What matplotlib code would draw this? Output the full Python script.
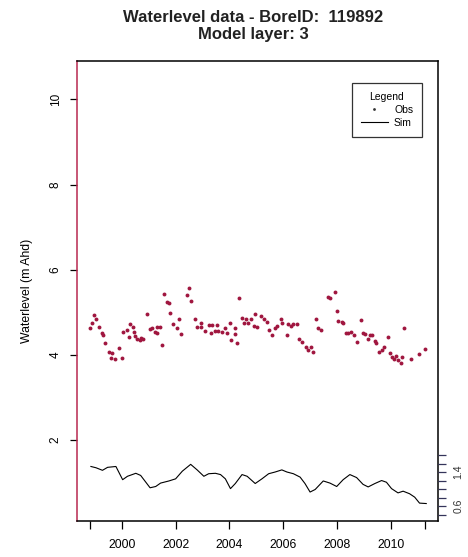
import matplotlib
matplotlib.use("Agg")
import matplotlib.pyplot as plt
from matplotlib.lines import Line2D

plt.rcParams['font.family'] = ['Liberation Sans', 'DejaVu Sans']

# ---- data ----
obs_year = [1998.83, 1998.89, 1998.97, 1999.04, 1999.16, 1999.25, 1999.31, 1999.37, 1999.54, 1999.59,
            1999.64, 1999.75, 1999.89, 1999.99, 2000.06, 2000.19, 2000.25, 2000.30, 2000.40, 2000.46,
            2000.48, 2000.56, 2000.66, 2000.73, 2000.79, 2000.95, 2001.04, 2001.14, 2001.22, 2001.29,
            2001.32, 2001.42, 2001.51, 2001.56, 2001.67, 2001.74, 2001.79, 2001.91, 2002.04, 2002.14,
            2002.21, 2002.43, 2002.51, 2002.56, 2002.73, 2002.80, 2002.93, 2002.96, 2003.09, 2003.23,
            2003.30, 2003.36, 2003.46, 2003.54, 2003.58, 2003.73, 2003.83, 2003.91, 2004.01, 2004.07,
            2004.20, 2004.22, 2004.30, 2004.34, 2004.47, 2004.53, 2004.62, 2004.71, 2004.81, 2004.90,
            2004.94, 2005.03, 2005.19, 2005.27, 2005.40, 2005.48, 2005.60, 2005.68, 2005.77, 2005.93,
            2005.97, 2006.14, 2006.17, 2006.30, 2006.38, 2006.51, 2006.57, 2006.69, 2006.84, 2006.94,
            2007.04, 2007.12, 2007.21, 2007.31, 2007.41, 2007.68, 2007.74, 2007.93, 2007.99, 2008.05,
            2008.17, 2008.23, 2008.32, 2008.42, 2008.52, 2008.64, 2008.73, 2008.91, 2008.97, 2009.06,
            2009.14, 2009.22, 2009.31, 2009.43, 2009.47, 2009.56, 2009.66, 2009.75, 2009.88, 2009.96,
            2010.05, 2010.12, 2010.21, 2010.27, 2010.37, 2010.42, 2010.48, 2010.77, 2011.04, 2011.26]
obs_level = [4.62, 4.76, 4.93, 4.84, 4.65, 4.52, 4.47, 4.29, 4.07, 3.92,
             4.05, 3.90, 4.16, 3.92, 4.54, 4.58, 4.43, 4.73, 4.65, 4.54,
             4.44, 4.37, 4.35, 4.40, 4.37, 4.95, 4.60, 4.64, 4.54, 4.65,
             4.52, 4.65, 4.23, 5.43, 5.25, 5.21, 4.98, 4.73, 4.62, 4.84,
             4.50, 5.40, 5.56, 5.26, 4.85, 4.66, 4.76, 4.65, 4.55, 4.70,
             4.52, 4.70, 4.55, 4.70, 4.55, 4.54, 4.62, 4.51, 4.76, 4.35,
             4.62, 4.50, 4.29, 5.33, 4.87, 4.76, 4.84, 4.74, 4.84, 4.69,
             4.95, 4.65, 4.91, 4.84, 4.78, 4.58, 4.46, 4.64, 4.68, 4.84,
             4.76, 4.46, 4.72, 4.68, 4.72, 4.73, 4.37, 4.31, 4.19, 4.11,
             4.19, 4.07, 4.84, 4.62, 4.58, 5.36, 5.33, 5.48, 5.03, 4.80,
             4.78, 4.76, 4.51, 4.51, 4.54, 4.47, 4.31, 4.81, 4.52, 4.48,
             4.37, 4.47, 4.47, 4.33, 4.29, 4.07, 4.12, 4.19, 4.43, 4.05,
             3.95, 3.90, 3.98, 3.88, 3.82, 3.94, 4.62, 3.90, 4.02, 4.13]

sim_year = [1998.85, 1999.04, 1999.28, 1999.47, 1999.78, 2000.03, 2000.21, 2000.52, 2000.70, 2001.05,
            2001.26, 2001.44, 2001.75, 2002.00, 2002.25, 2002.56, 2002.80, 2003.05, 2003.23, 2003.48,
            2003.67, 2003.85, 2004.04, 2004.22, 2004.47, 2004.66, 2004.96, 2005.21, 2005.46, 2005.70,
            2005.95, 2006.14, 2006.38, 2006.63, 2006.81, 2007.00, 2007.19, 2007.49, 2007.74, 2007.99,
            2008.23, 2008.48, 2008.73, 2008.97, 2009.16, 2009.41, 2009.66, 2009.84, 2010.03, 2010.27,
            2010.46, 2010.70, 2010.89, 2011.07, 2011.32]
sim_level = [1.38, 1.35, 1.29, 1.36, 1.38, 1.07, 1.15, 1.22, 1.17, 0.88,
             0.91, 0.99, 1.04, 1.09, 1.27, 1.43, 1.30, 1.15, 1.21, 1.22,
             1.19, 1.09, 0.86, 0.98, 1.19, 1.15, 0.98, 1.09, 1.21, 1.25,
             1.30, 1.25, 1.21, 1.13, 0.98, 0.78, 0.84, 1.04, 0.99, 0.91,
             1.07, 1.19, 1.12, 0.96, 0.90, 0.98, 1.05, 1.01, 0.86, 0.76,
             0.80, 0.74, 0.66, 0.52, 0.51]

year_ticks = [2000, 2002, 2004, 2006, 2008, 2010]
level_ticks = [2, 4, 6, 8, 10]
right_ticks = [0.4, 0.6, 0.8, 1.0, 1.2, 1.4, 1.6, 1.8]
right_labels = ['', '0.6', '', '', '', '1.4', '', '']

obs_color = '#A0163F'
axis_red = '#B8284F'

fig = plt.figure(figsize=(4.68, 5.57), dpi=100)
ax = fig.add_axes([77/468, 1 - 521/557, (438-77)/468, (521-61)/557])

ax.plot(obs_year, obs_level, 'o', color=obs_color, ms=2.8, mew=0, label='Obs')
ax.plot(sim_year, sim_level, '-', color='black', lw=0.8, label='Sim')

# R-like 4% padding
x0, x1 = min(obs_year), max(obs_year)
dx = (x1 - x0) * 0.04
ax.set_xlim(x0 - dx, x1 + dx)
ax.set_ylim(0.1, 10.9)

xt = [x0] + year_ticks + [x1]
ax.set_xticks(xt)
ax.set_xticklabels([''] + [str(y) for y in year_ticks] + [''])
ax.set_yticks(level_ticks)
ax.set_yticklabels([str(v) for v in level_ticks])
ax.tick_params(axis='x', length=6, width=0.9, pad=7, labelsize=8.7, colors='black')
ax.tick_params(axis='y', length=5, width=0.9, pad=6, labelsize=8.5, labelrotation=90)
for lab in ax.get_yticklabels():
    lab.set_verticalalignment('center')

for s in ['top', 'right', 'bottom']:
    ax.spines[s].set_color('black')
    ax.spines[s].set_linewidth(1.1)
ax.spines['left'].set_color(axis_red)
ax.spines['left'].set_linewidth(1.1)

ax.set_ylabel('Waterlevel (m Ahd)', fontsize=8.8, labelpad=12)

# secondary right axis
ax2 = ax.twinx()
ax2.set_ylim(0.1 + 0.15, 10.9 + 0.15)
ax2.set_yticks(right_ticks)
ax2.set_yticklabels(right_labels)
ax2.tick_params(axis='y', length=6, width=0.9, colors='#34345a', labelcolor='#333333',
                labelsize=7.5, labelrotation=90, pad=5)
for lab in ax2.get_yticklabels():
    lab.set_verticalalignment('center')
for s in ax2.spines.values():
    s.set_visible(False)

handles = [Line2D([], [], marker='o', ls='none', color='#333333', ms=2.0, mew=0),
           Line2D([], [], color='black', lw=0.8)]
leg = ax.legend(handles, ['Obs', 'Sim'], title='Legend', loc='upper right',
                bbox_to_anchor=((422-77)/361, (521-83)/460), borderaxespad=0,
                fontsize=7.5, title_fontsize=7.5, frameon=True, fancybox=False,
                edgecolor='black', handlelength=2.6, handletextpad=0.6,
                labelspacing=0.3, borderpad=0.85)
leg.get_frame().set_linewidth(0.9)

fig.text(253/468, 1 - 17/557, 'Waterlevel data - BoreID:  119892', ha='center', va='center',
         fontsize=12, fontweight='bold', color='#222222')
fig.text(253/468, 1 - 35/557, 'Model layer: 3', ha='center', va='center',
         fontsize=12, fontweight='bold', color='#222222')

fig.savefig('out.png', dpi=100)
